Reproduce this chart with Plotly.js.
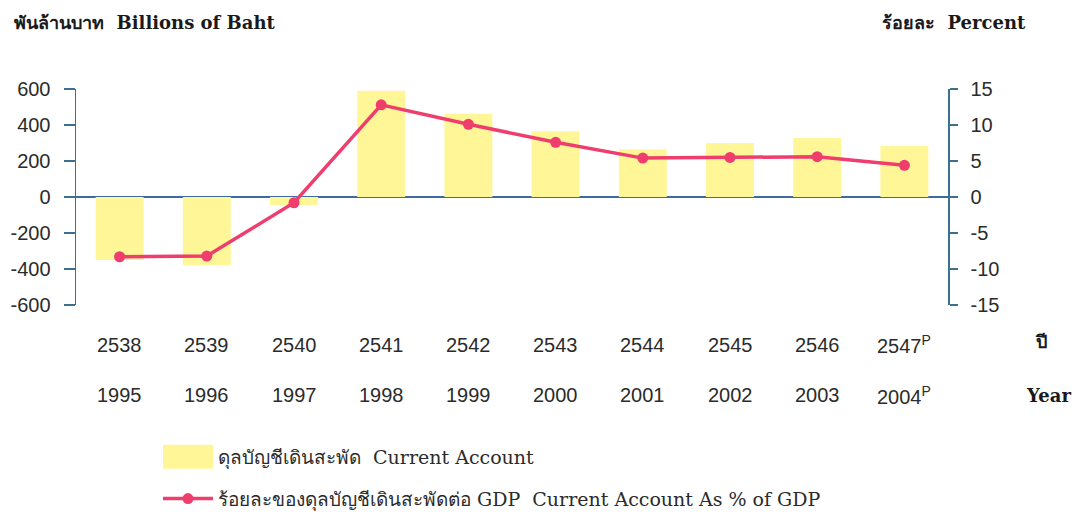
<!DOCTYPE html>
<html>
<head>
<meta charset="utf-8">
<script src="https://cdn.plot.ly/plotly-3.0.1.min.js"></script>
<style>
  html, body { margin: 0; padding: 0; background: #ffffff; }
  #chart { width: 1082px; height: 514px; }
</style>
</head>
<body>
<div id="chart"></div>
<script>
// ---- data ----
const categories = ["1995", "1996", "1997", "1998", "1999", "2000", "2001", "2002", "2003", "2004"];
const thaiYearLabels = ["2538", "2539", "2540", "2541", "2542", "2543", "2544", "2545", "2546", "2547<sup>P</sup>"];
const yearLabels = ["1995", "1996", "1997", "1998", "1999", "2000", "2001", "2002", "2003", "2004<sup>P</sup>"];
const currentAccount = [-350, -378, -45, 590, 462, 365, 265, 300, 328, 283];   // billions of baht
const caPctGDP = [-8.3, -8.2, -0.8, 12.8, 10.1, 7.6, 5.4, 5.5, 5.6, 4.4];       // percent
const leftTicks = [-600, -400, -200, 0, 200, 400, 600];
const rightTicks = [-15, -10, -5, 0, 5, 10, 15];
const barName = "ดุลบัญชีเดินสะพัด\u00A0 Current Account";
const lineName = "ร้อยละของดุลบัญชีเดินสะพัดต่อ GDP\u00A0 Current Account As % of GDP";

const axisColor = "#3d6f8f";
const textColor = "#2b2b2b";
const sans = "Liberation Sans, Arial, sans-serif";
const serif = "DejaVu Serif, serif";

const traces = [
  {
    type: "bar",
    x: categories,
    y: currentAccount,
    name: barName,
    marker: { color: "#fff797", line: { width: 0 } },
    width: 0.55,
    legendgroup: "a",
    yaxis: "y",
    hoverinfo: "skip"
  },
  {
    type: "scatter",
    mode: "lines+markers",
    x: categories,
    y: caPctGDP,
    name: lineName,
    line: { color: "#ef3d6e", width: 3.5 },
    marker: { color: "#ef3d6e", size: 11, symbol: "circle" },
    legendgroup: "b",
    yaxis: "y2",
    hoverinfo: "skip"
  }
];

const annotations = [];
categories.forEach((c, i) => {
  annotations.push({
    x: i, xref: "x", y: -0.185, yref: "paper",
    text: thaiYearLabels[i], showarrow: false, xanchor: "center", yanchor: "middle",
    font: { family: sans, size: 20, color: textColor }
  });
  annotations.push({
    x: i, xref: "x", y: -0.417, yref: "paper",
    text: yearLabels[i], showarrow: false, xanchor: "center", yanchor: "middle",
    font: { family: sans, size: 20, color: textColor }
  });
});
annotations.push({
  x: 1.1067, xref: "paper", y: -0.17, yref: "paper", text: "<b>ปี</b>",
  showarrow: false, xanchor: "center", yanchor: "middle",
  font: { family: serif, size: 18, color: "#1a1a1a" }
});
annotations.push({
  x: 1.1147, xref: "paper", y: -0.417, yref: "paper", text: "<b>Year</b>",
  showarrow: false, xanchor: "center", yanchor: "middle",
  font: { family: serif, size: 18, color: "#1a1a1a" }
});
annotations.push({
  x: -0.0734, xref: "paper", y: 1.31, yref: "paper", text: "<b>พันล้านบาท\u00A0 Billions of Baht</b>",
  showarrow: false, xanchor: "left", yanchor: "middle",
  font: { family: serif, size: 18, color: "#1a1a1a" }
});
annotations.push({
  x: 1.0917, xref: "paper", y: 1.31, yref: "paper", text: "<b>ร้อยละ\u00A0 Percent</b>",
  showarrow: false, xanchor: "right", yanchor: "middle",
  font: { family: serif, size: 18, color: "#1a1a1a" }
});

const layout = {
  width: 1082,
  height: 514,
  margin: { l: 76, r: 134, t: 89, b: 209, autoexpand: false },
  paper_bgcolor: "#ffffff",
  plot_bgcolor: "#ffffff",
  showlegend: true,
  legend: {
    xref: "container", yref: "container",
    x: 158 / 1082, y: 1 - 438 / 514, xanchor: "left", yanchor: "top",
    orientation: "v", traceorder: "grouped", tracegroupgap: 14,
    font: { family: serif, size: 19, color: textColor },
    bgcolor: "rgba(0,0,0,0)", itemwidth: 50
  },
  xaxis: {
    type: "category",
    range: [-0.5, 9.5],
    showline: false, showgrid: false, zeroline: false,
    ticks: "", showticklabels: false, fixedrange: true
  },
  yaxis: {
    range: [-600, 600],
    tickvals: leftTicks,
    ticktext: leftTicks.map(String),
    showgrid: false,
    showline: true, linecolor: axisColor, linewidth: 1.5,
    ticks: "outside", ticklen: 11, tickwidth: 1.5, tickcolor: axisColor,
    ticklabelstandoff: 9,
    zeroline: true, zerolinecolor: "#3f6aa0", zerolinewidth: 1.5,
    tickfont: { family: sans, size: 20, color: textColor },
    fixedrange: true
  },
  yaxis2: {
    overlaying: "y", side: "right",
    range: [-15, 15],
    tickvals: rightTicks,
    ticktext: rightTicks.map(String),
    showgrid: false, zeroline: false,
    showline: true, linecolor: axisColor, linewidth: 1.5,
    ticks: "outside", ticklen: 8, tickwidth: 1.5, tickcolor: axisColor,
    ticklabelstandoff: 9,
    tickfont: { family: sans, size: 20, color: textColor },
    fixedrange: true
  },
  annotations: annotations
};

Plotly.newPlot("chart", traces, layout, { staticPlot: true, displayModeBar: false }).then(gd => {
  // widen the bar legend swatch to the wide rectangle used in the reference
  const items = gd.querySelectorAll(".legend .traces");
  if (items.length) {
    const p = items[0].querySelector(".legendpoints path");
    if (p) p.setAttribute("d", "M25,12H-25V-12H25Z");
  }
});
</script>
</body>
</html>
